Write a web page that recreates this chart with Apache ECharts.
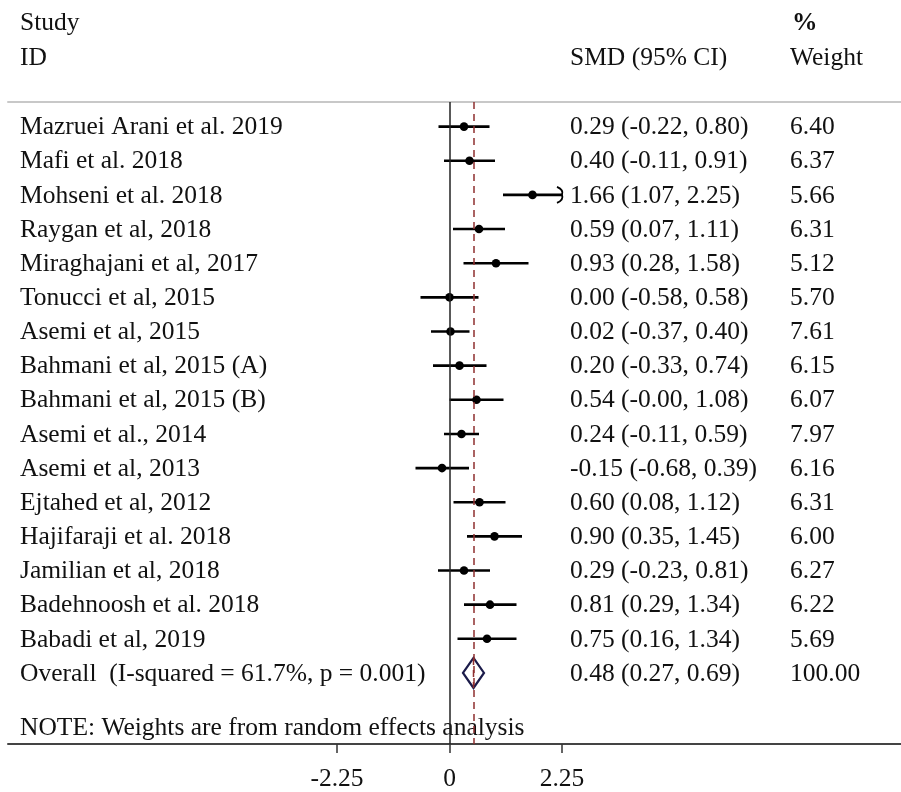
<!DOCTYPE html>
<html>
<head>
<meta charset="utf-8">
<script src="https://cdn.jsdelivr.net/npm/echarts@6/dist/echarts.min.js"></script>
<style>html,body{margin:0;padding:0;background:#fff}#c{width:901px;height:792px}</style>
</head>
<body>
<div id="c"></div>
<script>
const studies = ["Mazruei Arani et al. 2019","Mafi et al. 2018","Mohseni et al. 2018","Raygan et al, 2018","Miraghajani et al, 2017","Tonucci et al, 2015","Asemi et al, 2015","Bahmani et al, 2015 (A)","Bahmani et al, 2015 (B)","Asemi et al., 2014","Asemi et al, 2013","Ejtahed et al, 2012","Hajifaraji et al. 2018","Jamilian et al, 2018","Badehnoosh et al. 2018","Babadi et al, 2019"];
const smd =   [0.29, 0.40, 1.66, 0.59, 0.93, 0.00, 0.02, 0.20, 0.54, 0.24, -0.15, 0.60, 0.90, 0.29, 0.81, 0.75];
const lower = [-0.22, -0.11, 1.07, 0.07, 0.28, -0.58, -0.37, -0.33, -0.00, -0.11, -0.68, 0.08, 0.35, -0.23, 0.29, 0.16];
const upper = [0.80, 0.91, 2.25, 1.11, 1.58, 0.58, 0.40, 0.74, 1.08, 0.59, 0.39, 1.12, 1.45, 0.81, 1.34, 1.34];
const weights = [6.40, 6.37, 5.66, 6.31, 5.12, 5.70, 7.61, 6.15, 6.07, 7.97, 6.16, 6.31, 6.00, 6.27, 6.22, 5.69];
const overallLabel = "Overall  (I-squared = 61.7%, p = 0.001)";
const overall = {smd: 0.48, lower: 0.27, upper: 0.69, weight: 100.00};
const tickValues = [-2.25, 0, 2.25];
const tickLabels = ["-2.25", "0", "2.25"];
const noteText = "NOTE: Weights are from random effects analysis";

const XMIN = -2.25, XMAX = 2.25;
const FONT = 'Liberation Serif, "Times New Roman", serif';
const FS = 25.5;
const TXT = '#111';
function fmt(v){ return ((v < 0 || Object.is(v, -0)) ? '-' : '') + Math.abs(v).toFixed(2); }
function ciText(s, l, u){ return fmt(s) + ' (' + fmt(l) + ', ' + fmt(u) + ')'; }

const rows = studies.map((n, i) => [i, smd[i], lower[i], upper[i], weights[i]]);
const overallRow = [[studies.length, overall.smd, overall.lower, overall.upper, overall.weight]];

function hdr(text, x, y, bold){
  return {type: 'text', x: x, y: y, style: {text: text, font: (bold ? 'bold ' : '') + FS + 'px ' + FONT, fill: TXT, textVerticalAlign: 'middle'}};
}

const chart = echarts.init(document.getElementById('c'));
chart.setOption({
  animation: false,
  backgroundColor: '#fff',
  grid: {left: 8, right: 0, top: 102, bottom: 43},
  xAxis: [{
    type: 'value', position: 'bottom', min: -8.83, max: 9.03,
    axisLine: {show: true, onZero: false, lineStyle: {color: '#444', width: 2}},
    axisTick: {show: true, customValues: tickValues, length: 9, lineStyle: {color: '#333', width: 1.5}},
    axisLabel: {show: true, customValues: tickValues, margin: 22,
      formatter: v => { const k = tickValues.indexOf(v); return k >= 0 ? tickLabels[k] : ''; },
      fontFamily: FONT, fontSize: FS, color: TXT},
    splitLine: {show: false}
  }, {
    type: 'value', position: 'top', min: -8.83, max: 9.03,
    axisLine: {show: true, onZero: false, lineStyle: {color: '#c8c8c8', width: 2}},
    axisTick: {show: false}, axisLabel: {show: false}, splitLine: {show: false}
  }],
  yAxis: {type: 'value', inverse: true, min: -0.72, max: 18.08, show: false},
  graphic: [
    hdr('Study', 20, 23), hdr('ID', 20, 58),
    hdr('SMD (95% CI)', 570, 58),
    hdr('%', 792, 23, true), hdr('Weight', 790, 58),
    hdr(noteText, 20, 728)
  ],
  series: [{
    type: 'custom',
    xAxisIndex: 0,
    data: rows,
    encode: {x: [1, 2, 3], y: 0},
    clip: false,
    renderItem: function(params, api){
      const i = api.value(0), s = api.value(1), l = api.value(2), u = api.value(3), w = api.value(4);
      const lo = api.coord([Math.max(l, XMIN), i]);
      const hi = api.coord([Math.min(u, XMAX), i]);
      const p = api.coord([s, i]);
      const y = p[1];
      const ch = [
        {type: 'line', shape: {x1: lo[0], y1: y, x2: hi[0], y2: y}, style: {stroke: '#000', lineWidth: 2.6}},
        {type: 'circle', shape: {cx: p[0], cy: y, r: 4.3}, style: {fill: '#000'}},
        {type: 'text', x: 20, y: y + 1, style: {text: studies[i], font: FS + 'px ' + FONT, fill: TXT, textVerticalAlign: 'middle'}},
        {type: 'text', x: 570, y: y + 1, style: {text: ciText(s, l, u), font: FS + 'px ' + FONT, fill: TXT, textVerticalAlign: 'middle'}},
        {type: 'text', x: 790, y: y + 1, style: {text: w.toFixed(2), font: FS + 'px ' + FONT, fill: TXT, textVerticalAlign: 'middle'}}
      ];
      if (u >= XMAX) {
        ch.push({type: 'bezierCurve', shape: {x1: hi[0] - 5, y1: y - 8, cpx1: hi[0] + 2, cpy1: y - 5, x2: hi[0], y2: y}, style: {stroke: '#000', lineWidth: 1.8, fill: null}});
        ch.push({type: 'bezierCurve', shape: {x1: hi[0] - 5, y1: y + 8, cpx1: hi[0] + 2, cpy1: y + 5, x2: hi[0], y2: y}, style: {stroke: '#000', lineWidth: 1.8, fill: null}});
      }
      return {type: 'group', children: ch};
    },
    markLine: {
      silent: true, symbol: 'none', label: {show: false},
      data: [
        {xAxis: 0, lineStyle: {color: '#222', width: 1.5, type: 'solid'}},
        {xAxis: overall.smd, lineStyle: {color: '#8e2f2f', width: 1.5, type: [7, 5]}}
      ]
    },
    z: 3
  }, {
    type: 'custom',
    xAxisIndex: 0,
    data: overallRow,
    encode: {x: [1, 2, 3], y: 0},
    clip: false,
    renderItem: function(params, api){
      const i = api.value(0), s = api.value(1), l = api.value(2), u = api.value(3), w = api.value(4);
      const lo = api.coord([l, i]), hi = api.coord([u, i]), p = api.coord([s, i]);
      const y = p[1];
      const h = 15;
      return {type: 'group', children: [
        {type: 'polygon', shape: {points: [[lo[0], y], [p[0], y - h], [hi[0], y], [p[0], y + h]]}, style: {fill: '#fff', stroke: '#1b1b4a', lineWidth: 2.2}},
        {type: 'line', shape: {x1: p[0], y1: y - h, x2: p[0], y2: y + h}, style: {stroke: '#8e2f2f', lineWidth: 1.5, lineDash: [7, 5]}},
        {type: 'text', x: 20, y: y + 1, style: {text: overallLabel, font: FS + 'px ' + FONT, fill: TXT, textVerticalAlign: 'middle'}},
        {type: 'text', x: 570, y: y + 1, style: {text: ciText(s, l, u), font: FS + 'px ' + FONT, fill: TXT, textVerticalAlign: 'middle'}},
        {type: 'text', x: 790, y: y + 1, style: {text: w.toFixed(2), font: FS + 'px ' + FONT, fill: TXT, textVerticalAlign: 'middle'}}
      ]};
    },
    z: 4
  }]
});
</script>
</body>
</html>
